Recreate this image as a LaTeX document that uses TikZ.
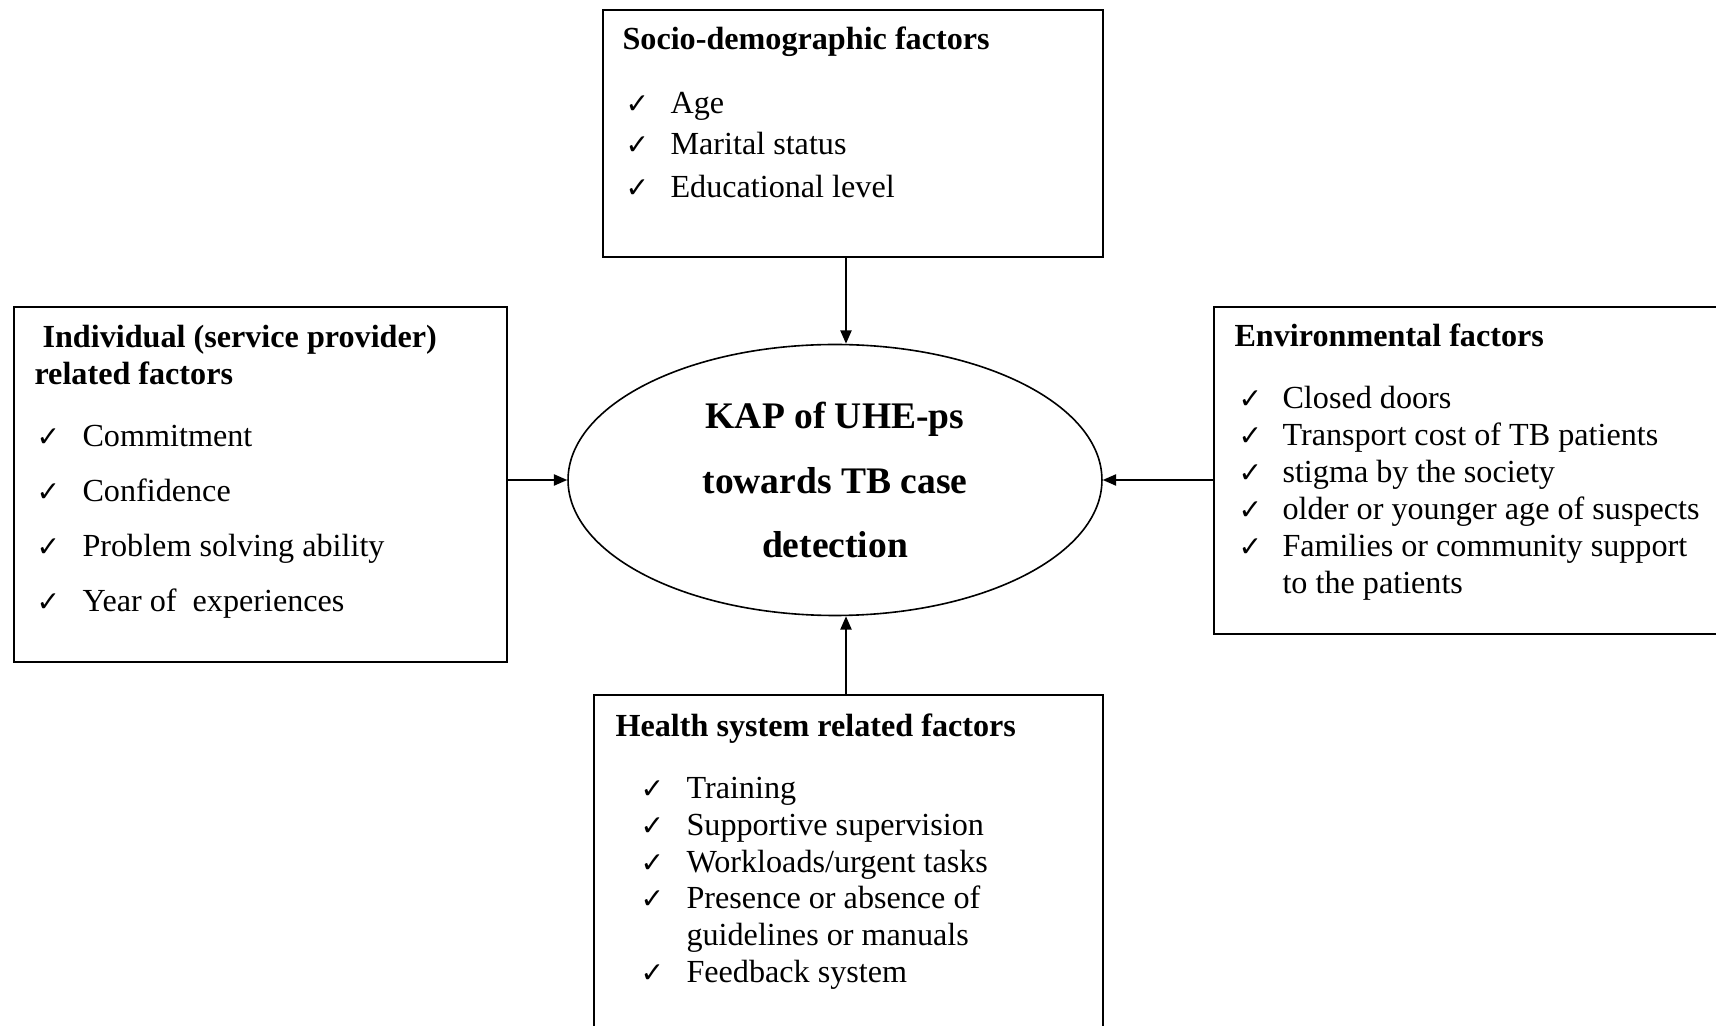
\documentclass[tikz,border=0pt]{standalone}
\usepackage{fontspec}
\setmainfont{Liberation Serif}
\newfontfamily\checkfont{DejaVu Sans}
\usetikzlibrary{shapes.geometric,arrows.meta}
\newcommand{\tickmark}{{\checkfont\bfseries\fontsize{10.5}{12}\selectfont ✓}}
\tikzset{
  factorbox/.style={draw, line width=0.7pt, anchor=north west, inner sep=0pt},
  boxtitle/.style={anchor=base west, inner sep=0pt, font=\fontsize{12}{14}\selectfont\bfseries},
  boxitem/.style={anchor=base west, inner sep=0pt},
  arr/.style={-{Triangle[length=5pt,width=4.2pt]}, line width=0.6pt},
}
\begin{document}
\begin{tikzpicture}[x=0.3731pt, y=-0.3731pt, font=\fontsize{12}{14}\selectfont]
  \clip (0,0) rectangle (1716,1026);
  % the four boxes
  \node[factorbox, minimum width=186.6pt, minimum height=92.2pt] (soc) at (602,9) {};
  \node[factorbox, minimum width=183.9pt, minimum height=132.5pt] (ind) at (13,306) {};
  \node[factorbox, minimum width=189.2pt, minimum height=122pt] (env) at (1213,306) {};
  \node[factorbox, minimum width=190pt, minimum height=127pt] (hsys) at (593,694) {};
  % centre
  \node[draw, ellipse, line width=0.6pt, minimum width=199.2pt, minimum height=101.1pt,
        align=center, font=\fontsize{14}{24}\selectfont\bfseries] (kap) at (835,480)
        {KAP of UHE-ps\\towards TB case\\detection};
  \coordinate (mid) at (846,480);

  % Socio-demographic
  \node[boxtitle] (soctitle) at (622,50) {Socio-demographic factors};
  \foreach \yy/\txt [count=\i] in {114/Age, 155/Marital status, 198/Educational level} {
    \node[boxitem] (socchk\i) at (625,\yy) {\tickmark};
    \node[boxitem] (socitem\i) at (670,\yy) {\txt};
  }

  % Individual
  \node[boxtitle] (indtitle) at (42,348) {Individual (service provider)};
  \node[boxtitle] (indtitleb) at (34,385) {related factors};
  \foreach \yy/\txt [count=\i] in {447/Commitment, 502/Confidence,
      557/Problem solving ability, 612/Year of\ \ experiences} {
    \node[boxitem] (indchk\i) at (36,\yy) {\tickmark};
    \node[boxitem] (inditem\i) at (82,\yy) {\txt};
  }

  % Environmental
  \node[boxtitle] (envtitle) at (1234,347) {Environmental factors};
  \foreach \yy/\txt [count=\i] in {409/Closed doors, 446/Transport cost of TB patients,
      483/stigma by the society, 520/older or younger age of suspects,
      557/Families or community support} {
    \node[boxitem] (envchk\i) at (1238,\yy) {\tickmark};
    \node[boxitem] (envitem\i) at (1282,\yy) {\txt};
  }
  \node[boxitem] (envitem6) at (1282,594) {to the patients};

  % Health system
  \node[boxtitle] (hsystitle) at (615,737) {Health system related factors};
  \foreach \yy/\txt [count=\i] in {799/Training, 836/Supportive supervision,
      873/{Workloads/urgent tasks}, 909/Presence or absence of, 983/Feedback system} {
    \node[boxitem] (hsyschk\i) at (640,\yy) {\tickmark};
    \node[boxitem] (hsysitem\i) at (686,\yy) {\txt};
  }
  \node[boxitem] (hsysitem6) at (686,946) {guidelines or manuals};

  % arrows into the centre
  \draw[arr] (soc.south -| mid) -- (kap.north -| mid);
  \draw[arr] (hsys.north -| mid) -- (kap.south -| mid);
  \draw[arr] (ind.east |- kap) -- (kap.west);
  \draw[arr] (env.west |- kap) -- (kap.east);
\end{tikzpicture}
\end{document}
